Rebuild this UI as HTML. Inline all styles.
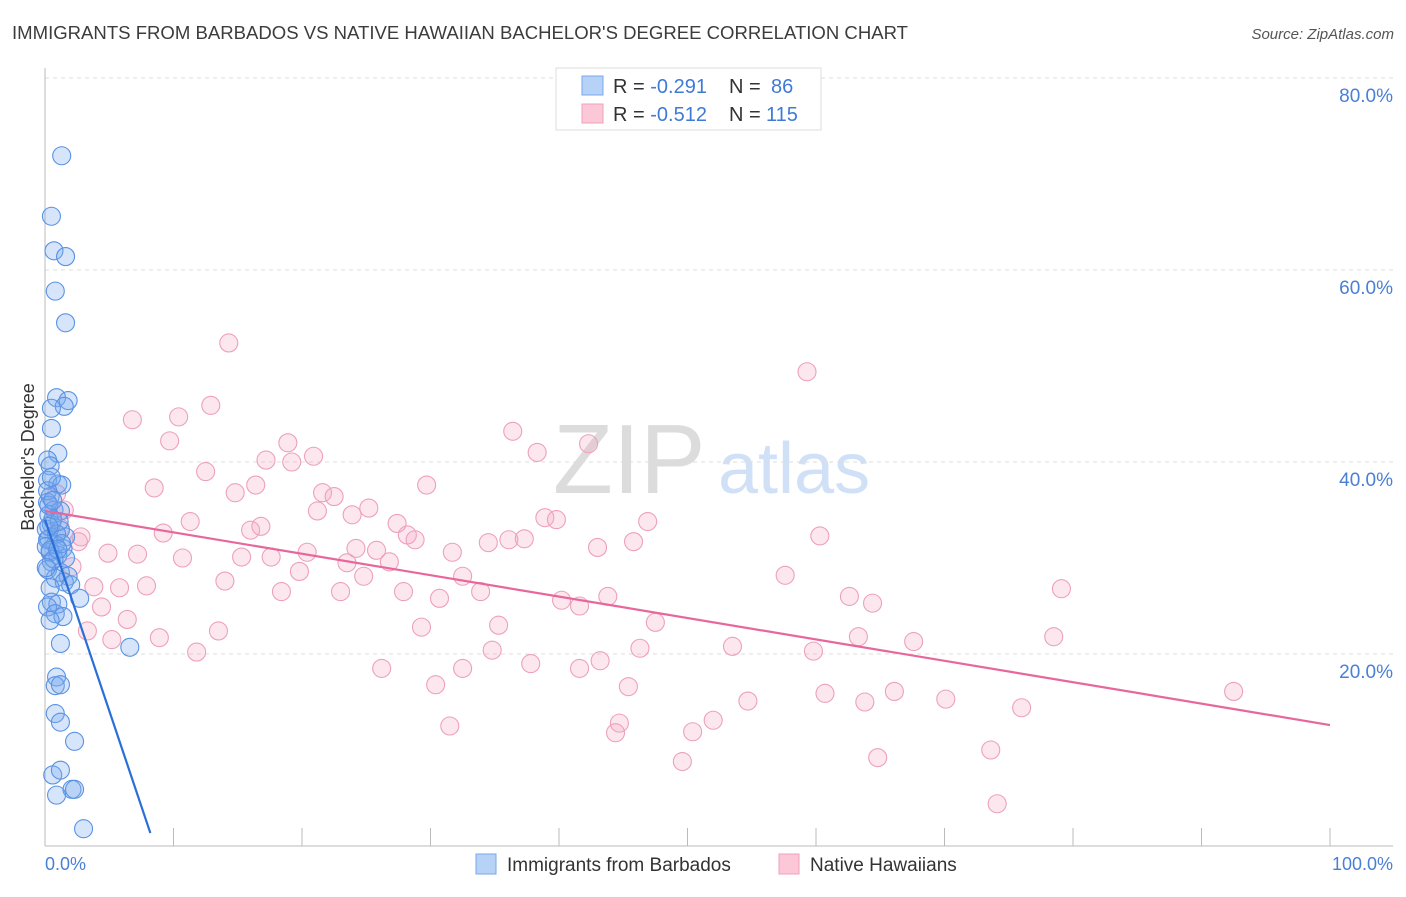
<!DOCTYPE html>
<html><head><meta charset="utf-8"><style>
body{margin:0;background:#fff;font-family:"Liberation Sans",sans-serif;}
svg text{font-family:"Liberation Sans",sans-serif;}
</style></head><body>
<svg id="chart" width="1406" height="892" viewBox="0 0 1406 892" xmlns="http://www.w3.org/2000/svg">
<text x="12" y="39" font-size="18.5" fill="#3c3c3c" textLength="896" lengthAdjust="spacingAndGlyphs">IMMIGRANTS FROM BARBADOS VS NATIVE HAWAIIAN BACHELOR'S DEGREE CORRELATION CHART</text>
<text x="1394" y="39" font-size="15" fill="#555" text-anchor="end" font-style="italic">Source: ZipAtlas.com</text>
<g>
<text x="553" y="493" font-size="98" fill="#dcdcdc" font-family="Liberation Serif, serif">ZIP</text>
<text x="718" y="493" font-size="72" fill="#d0e1f7">atlas</text>
</g>
<g id="grid"></g>
<g id="axes"></g>
<g id="pink"></g>
<g id="blue"></g>
<g id="lines"></g>
<text transform="translate(34,457) rotate(-90)" font-size="18" fill="#333" text-anchor="middle">Bachelor's Degree</text>
<text x="45" y="870" font-size="18" fill="#4a7fd6">0.0%</text>
<text x="1393" y="870" font-size="18" fill="#4a7fd6" text-anchor="end">100.0%</text>
<g>
<rect x="556" y="68" width="265" height="62" fill="#fff" stroke="#ddd"/>
<rect x="582" y="76" width="21" height="19" fill="#b7d2f7" stroke="#7aa8ea"/>
<rect x="582" y="104" width="21" height="19" fill="#fcc8d7" stroke="#f0a0bb"/>
<text x="613" y="93" font-size="20" fill="#333">R = <tspan fill="#3f7ad6">-0.291</tspan></text>
<text x="729" y="93" font-size="20" fill="#333">N =</text>
<text x="771" y="93" font-size="20" fill="#3f7ad6">86</text>
<text x="613" y="121" font-size="20" fill="#333">R = <tspan fill="#3f7ad6">-0.512</tspan></text>
<text x="729" y="121" font-size="20" fill="#333">N =</text>
<text x="766" y="121" font-size="20" fill="#3f7ad6">115</text>
</g>
<g>
<rect x="476" y="854" width="20" height="20" fill="#b7d2f7" stroke="#7aa8ea"/>
<text x="507" y="871" font-size="19" fill="#333">Immigrants from Barbados</text>
<rect x="779" y="854" width="20" height="20" fill="#fcc8d7" stroke="#f0a0bb"/>
<text x="810" y="871" font-size="19" fill="#333">Native Hawaiians</text>
</g>
</svg>
<script>
const yTicks=[20,40,60,80];
const yTickLabels=["20.0%","40.0%","60.0%","80.0%"];
const xTicks=[0,10,20,30,40,50,60,70,80,90,100];
const blueX=[1.3,0.5,0.7,1.6,0.8,1.6,0.9,1.8,1.5,0.5,0.5,1.0,0.2,0.4,0.2,1.0,1.3,0.4,0.2,0.7,1.2,0.3,0.5,1.2,1.6,0.2,0.8,1.4,0.4,1.0,1.6,0.5,0.2,1.2,1.8,0.8,1.5,0.4,2.0,2.7,0.5,1.0,0.2,0.8,1.4,0.4,1.2,6.6,0.9,0.8,1.2,0.8,1.2,2.3,0.6,1.2,2.1,2.3,0.9,3.0,0.1,0.3,0.6,1.1,0.1,0.4,0.9,0.3,0.7,1.3,0.2,0.5,1.0,0.1,0.6,0.3];
const blueY=[71.9,65.6,62.0,61.4,57.8,54.5,46.7,46.4,45.8,45.6,43.5,40.9,40.2,39.6,38.1,37.7,37.6,36.4,35.8,35.0,34.9,34.5,33.5,32.9,32.2,31.9,31.4,31.0,30.6,30.3,30.0,29.6,28.8,28.5,28.1,27.9,27.5,26.9,27.2,25.8,25.4,25.2,24.9,24.2,23.9,23.5,21.1,20.7,17.6,16.7,16.8,13.8,12.9,10.9,7.4,7.9,5.9,5.9,5.3,1.8,33.0,32.0,34.0,33.8,31.2,30.8,32.5,35.5,29.9,31.5,37.0,38.4,30.9,29.0,36.0,33.3];
const pinkX=[14.3,59.3,12.9,10.4,6.8,36.4,9.7,42.3,38.3,18.9,20.9,17.2,19.2,12.5,8.5,29.7,16.4,14.8,21.6,22.5,0.9,25.2,21.2,23.9,38.9,39.8,27.4,11.3,46.9,1.2,16.0,16.8,9.2,28.2,60.3,28.8,2.6,36.1,34.5,37.3,45.8,24.2,25.8,31.7,43.0,4.9,7.2,20.4,10.7,15.3,17.6,2.1,23.5,26.8,19.8,24.8,32.5,57.6,14.0,3.8,5.8,7.9,18.4,23.0,27.9,33.9,40.2,43.8,79.1,62.6,30.7,64.4,41.6,4.4,6.4,47.5,35.3,29.3,13.5,3.3,5.2,8.9,63.3,78.5,11.8,53.5,67.6,34.8,46.3,59.8,37.8,43.2,26.2,32.5,41.6,30.4,45.4,60.7,66.1,54.7,63.8,70.1,92.5,76.0,52.0,44.7,31.5,44.4,50.4,73.6,49.6,64.8,74.1,1.5,2.8];
const pinkY=[52.4,49.4,45.9,44.7,44.4,43.2,42.2,41.9,41.0,42.0,40.6,40.2,40.0,39.0,37.3,37.6,37.6,36.8,36.8,36.4,36.7,35.2,34.9,34.5,34.2,34.0,33.6,33.8,33.8,33.1,32.9,33.3,32.6,32.4,32.3,31.9,31.7,31.9,31.6,32.0,31.7,31.0,30.8,30.6,31.1,30.5,30.4,30.6,30.0,30.1,30.1,29.1,29.5,29.6,28.6,28.1,28.1,28.2,27.6,27.0,26.9,27.1,26.5,26.5,26.5,26.5,25.6,26.0,26.8,26.0,25.8,25.3,25.0,24.9,23.6,23.3,23.0,22.8,22.4,22.4,21.5,21.7,21.8,21.8,20.2,20.8,21.3,20.4,20.6,20.3,19.0,19.3,18.5,18.5,18.5,16.8,16.6,15.9,16.1,15.1,15.0,15.3,16.1,14.4,13.1,12.8,12.5,11.8,11.9,10.0,8.8,9.2,4.4,35.0,32.2];
const blueTrend=[[0,34.0],[8.2,1.35]];
const pinkTrend=[[0,34.9],[100,12.6]];
const NS="http://www.w3.org/2000/svg";
const sx=v=>45+v*12.85, sy=v=>846-v*9.6;
function mk(t,a,p){const e=document.createElementNS(NS,t);for(const k in a)e.setAttribute(k,a[k]);p.appendChild(e);return e;}
const grid=document.getElementById('grid');
yTicks.forEach((t,i)=>{
 const l=mk('line',{x1:45,x2:1393,y1:sy(t),y2:sy(t),stroke:'#dcdcdc','stroke-dasharray':'4,4'},grid);
 
 
 const tx=mk('text',{x:1393,y:sy(t)+24,'font-size':19,fill:'#4a7fd6','text-anchor':'end'},grid);
 tx.textContent=yTickLabels[i];
 
 
});
const ax=document.getElementById('axes');
const ya=mk('line',{x1:45,x2:45,y1:68,y2:846,stroke:'#bbb'},ax);


const xa=mk('line',{x1:45,x2:1393,y1:846,y2:846,stroke:'#bbb'},ax);


xTicks.forEach(t=>{
 const l=mk('line',{x1:sx(t),x2:sx(t),y1:828,y2:846,stroke:'#bbb'},ax);
 
 
});
const pg=document.getElementById('pink');
pinkX.forEach((x,i)=>{
 const c=mk('circle',{cx:sx(x),cy:sy(pinkY[i]),r:9,fill:'rgba(246,170,196,0.28)',stroke:'#eea0ba','stroke-width':1.1},pg);
 
 
});
const bg=document.getElementById('blue');
blueX.forEach((x,i)=>{
 const c=mk('circle',{cx:sx(x),cy:sy(blueY[i]),r:9,fill:'rgba(120,168,238,0.3)',stroke:'#5a92e4','stroke-width':1.1},bg);
 
 
});
const lg=document.getElementById('lines');
const pl=mk('line',{x1:sx(pinkTrend[0][0]),y1:sy(pinkTrend[0][1]),x2:sx(pinkTrend[1][0]),y2:sy(pinkTrend[1][1]),stroke:'#e8679a','stroke-width':2.2},lg);


const bl=mk('line',{x1:sx(blueTrend[0][0]),y1:sy(blueTrend[0][1]),x2:sx(blueTrend[1][0]),y2:sy(blueTrend[1][1]),stroke:'#2a6fd8','stroke-width':2.2},lg);


</script>
</body></html>
